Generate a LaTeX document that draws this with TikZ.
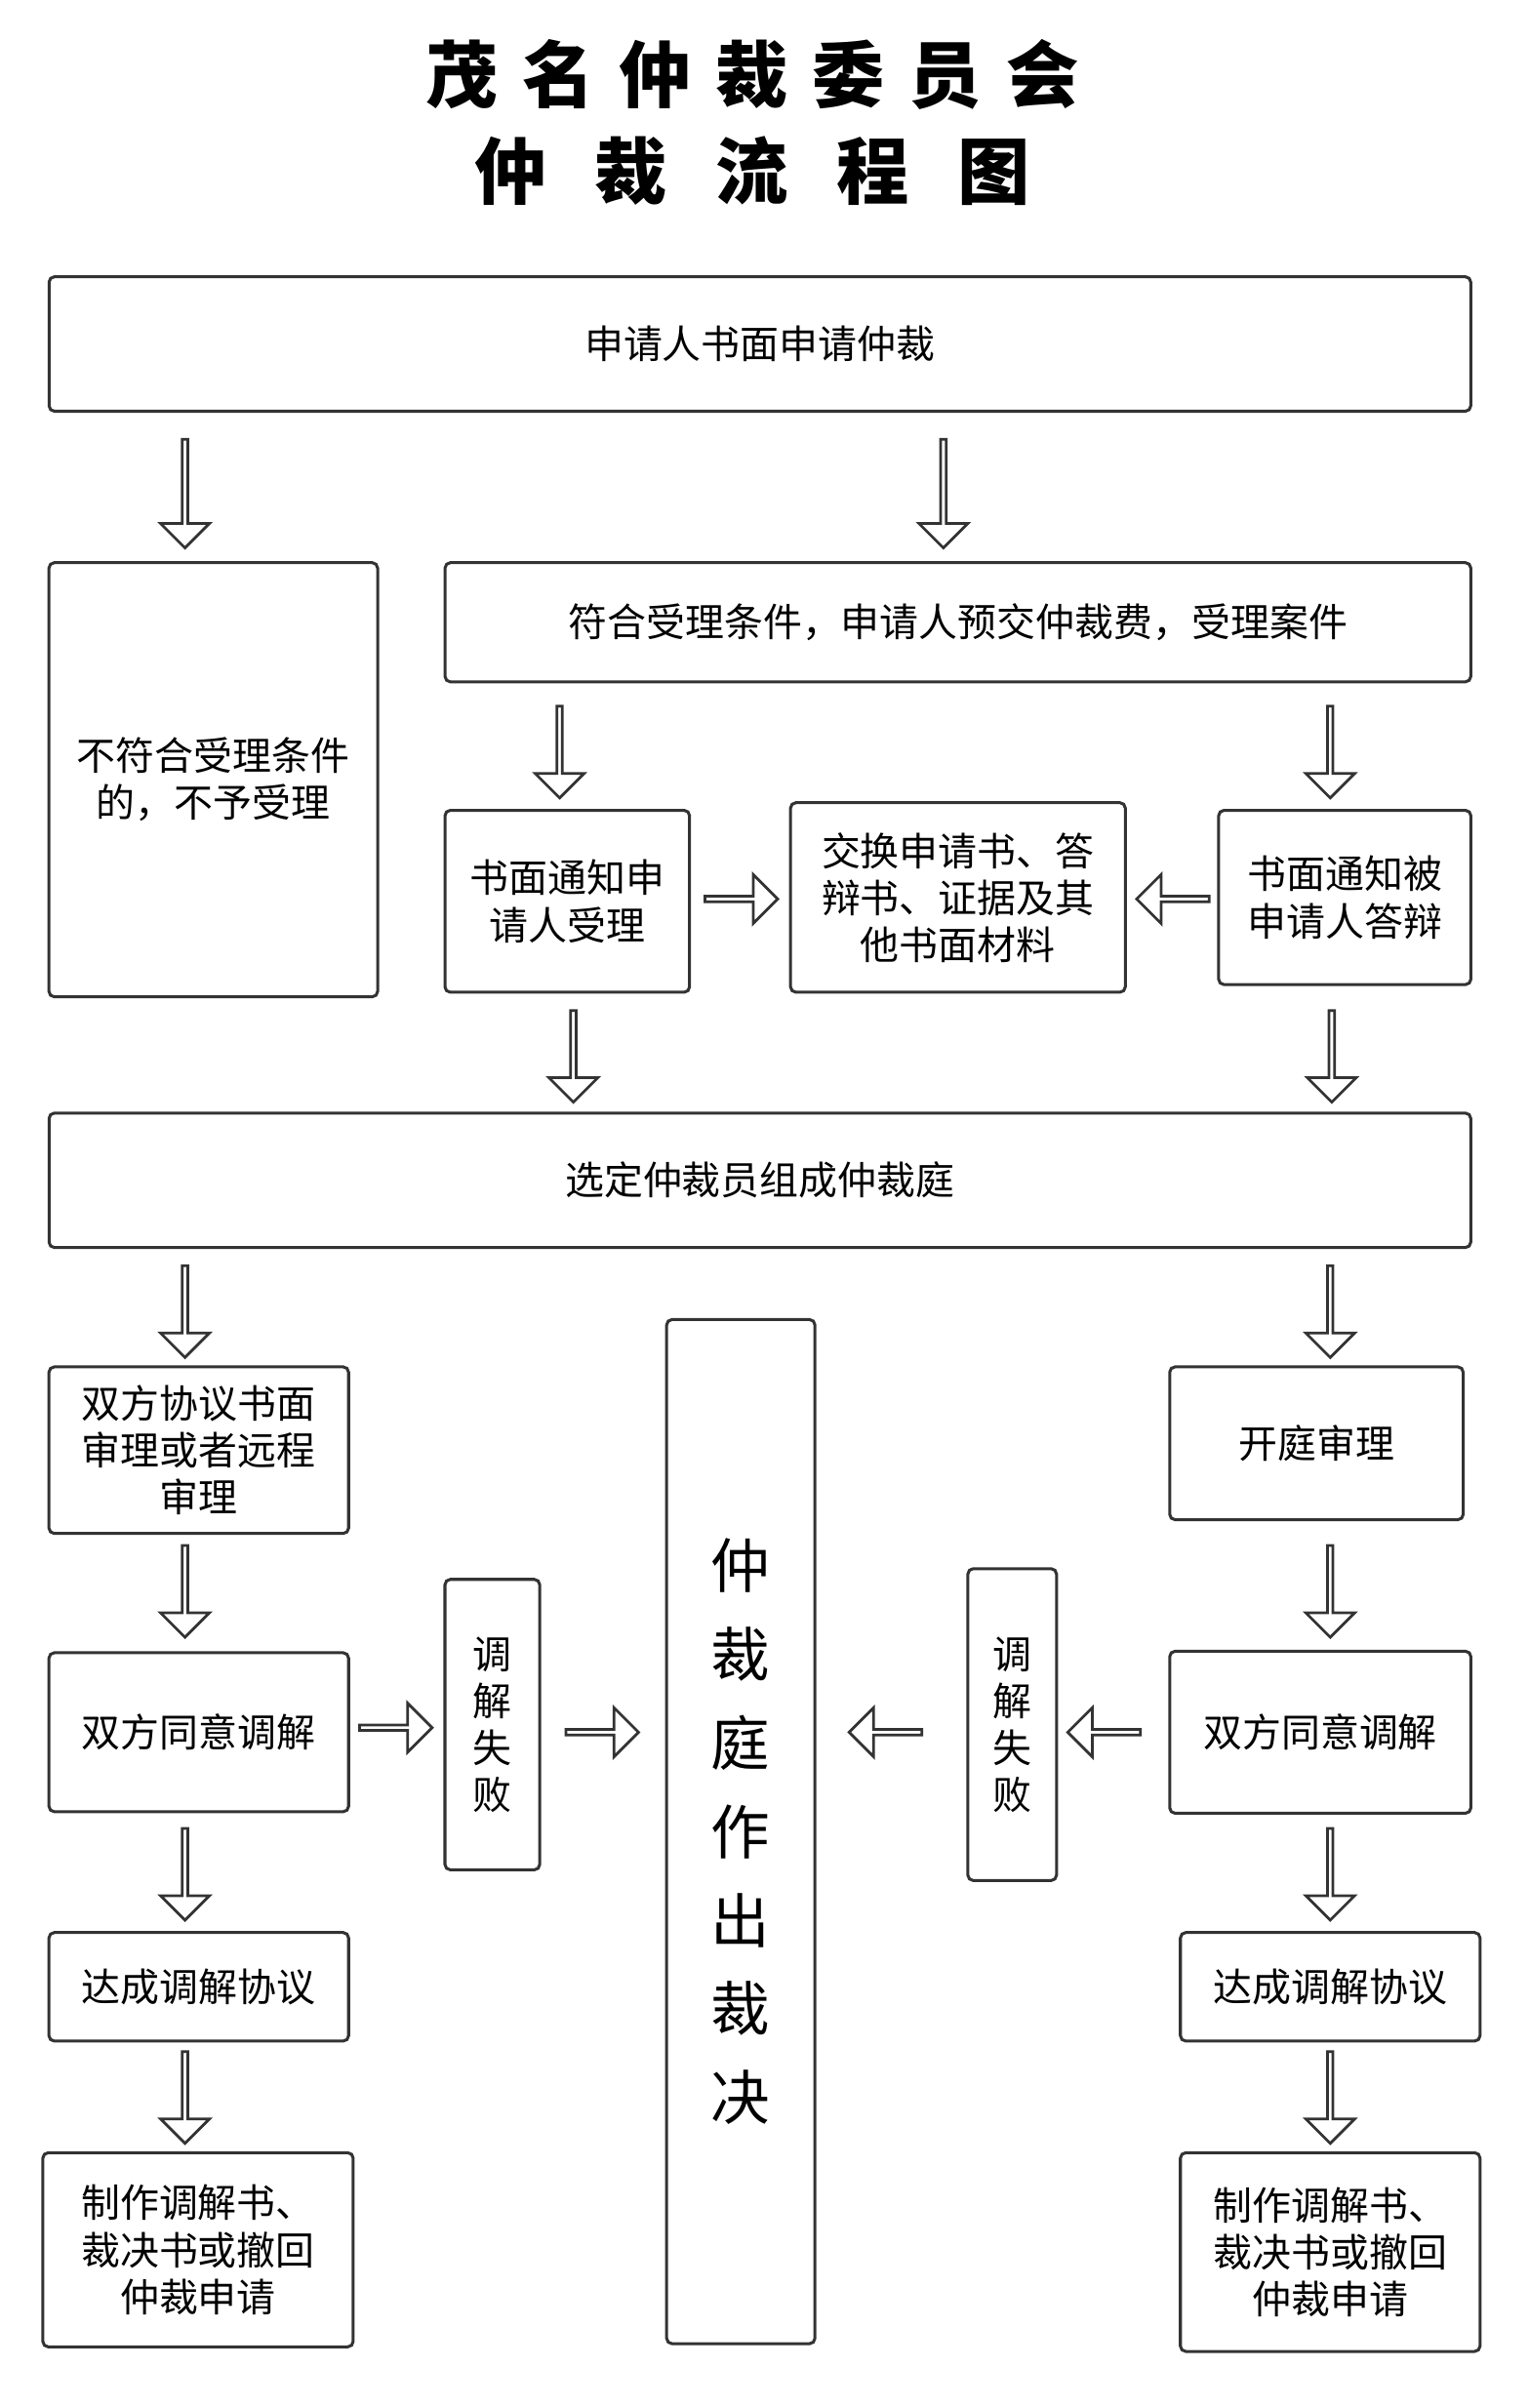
\documentclass[tikz,border=0pt]{standalone}
\usepackage{fontspec}
\setmainfont{Noto Sans CJK SC}
\usetikzlibrary{shapes.arrows}
\begin{document}
\begin{tikzpicture}[x=0.02cm,y=-0.02cm]

\tikzset{box/.style = {rectangle, rounded corners=2pt, draw=black!80, line width=1.1pt, align=center, font=\fontsize{14.5}{17.5}\selectfont, inner sep=0pt},
darr/.style = {single arrow, draw=black!80, line width=1pt, minimum height=1.2cm, minimum width=0.64cm, single arrow head extend=0.14cm, inner sep=0pt, shape border rotate=270},
rarr/.style = {darr, minimum height=0.95cm, shape border rotate=0},
larr/.style = {darr, minimum height=0.95cm, shape border rotate=180}}

\useasboundingbox (0,0) rectangle (1000,1575);

% Title
\node (title) at (492,80) [align=center, font=\fontsize{27}{36}\selectfont\bfseries] {茂\,\,名\,\,仲\,\,裁\,\,委\,\,员\,\,会\\仲\,\,\,\,裁\,\,\,\,流\,\,\,\,程\,\,\,\,图};

% Define nodes
\node (apply) at (497,225) [box, minimum width=18.6cm, minimum height=1.76cm] {申请人书面申请仲裁};
\node (reject) at (139.5,510) [box, minimum width=4.3cm, minimum height=5.68cm] {不符合受理条件\\的，不予受理};
\node (accept) at (626.5,407) [box, minimum width=13.42cm, minimum height=1.56cm] {符合受理条件，申请人预交仲裁费，受理案件};
\node (notifyA) at (371,589.5) [box, minimum width=3.2cm, minimum height=2.38cm] {书面通知申\\请人受理};
\node (exchange) at (626.5,587) [box, minimum width=4.38cm, minimum height=2.48cm] {交换申请书、答\\辩书、证据及其\\他书面材料};
\node (notifyB) at (879.5,587) [box, minimum width=3.3cm, minimum height=2.28cm] {书面通知被\\申请人答辩};
\node (panel) at (497,772) [box, minimum width=18.6cm, minimum height=1.76cm] {选定仲裁员组成仲裁庭};
\node (written) at (130,948.5) [box, minimum width=3.92cm, minimum height=2.18cm] {双方协议书面\\审理或者远程\\审理};
\node (hearing) at (861,944) [box, minimum width=3.84cm, minimum height=2cm] {开庭审理};
\node (medL) at (130,1133) [box, minimum width=3.92cm, minimum height=2.08cm] {双方同意调解};
\node (medR) at (863.5,1133) [box, minimum width=3.94cm, minimum height=2.12cm] {双方同意调解};
\node (failL) at (322,1128) [box, minimum width=1.24cm, minimum height=3.8cm] {调\\解\\失\\败};
\node (failR) at (662,1128) [box, minimum width=1.16cm, minimum height=4.08cm] {调\\解\\失\\败};
\node (award) at (484.5,1198) [box, minimum width=1.94cm, minimum height=13.4cm, font=\fontsize{22}{33}\selectfont] {仲\\裁\\庭\\作\\出\\裁\\决};
\node (agreeL) at (130,1299.5) [box, minimum width=3.92cm, minimum height=1.42cm] {达成调解协议};
\node (agreeR) at (870,1299.5) [box, minimum width=3.92cm, minimum height=1.42cm] {达成调解协议};
\node (docL) at (129.5,1471.5) [box, minimum width=4.06cm, minimum height=2.54cm] {制作调解书、\\裁决书或撤回\\仲裁申请};
\node (docR) at (870,1473) [box, minimum width=3.92cm, minimum height=2.6cm] {制作调解书、\\裁决书或撤回\\仲裁申请};

% Hollow arrows
\node (a1) at (121,322) [darr, minimum height=1.42cm] {};
\node (a2) at (617,322) [darr, minimum height=1.42cm] {};
\node (a3) at (366,491) [darr] {};
\node (a4) at (870,491) [darr] {};
\node (a5) at (484,588) [rarr] {};
\node (a6) at (768,588) [larr] {};
\node (a7) at (375,690) [darr] {};
\node (a8) at (871,690) [darr] {};
\node (a9) at (121,857) [darr] {};
\node (a10) at (870,857) [darr] {};
\node (a11) at (121,1040) [darr] {};
\node (a12) at (870,1040) [darr] {};
\node (a13) at (258,1130) [rarr] {};
\node (a14) at (393,1133) [rarr] {};
\node (a15) at (580,1133) [larr] {};
\node (a16) at (723,1133) [larr] {};
\node (a17) at (121,1225) [darr] {};
\node (a18) at (870,1225) [darr] {};
\node (a19) at (121,1371) [darr] {};
\node (a20) at (870,1371) [darr] {};

\end{tikzpicture}
\end{document}
